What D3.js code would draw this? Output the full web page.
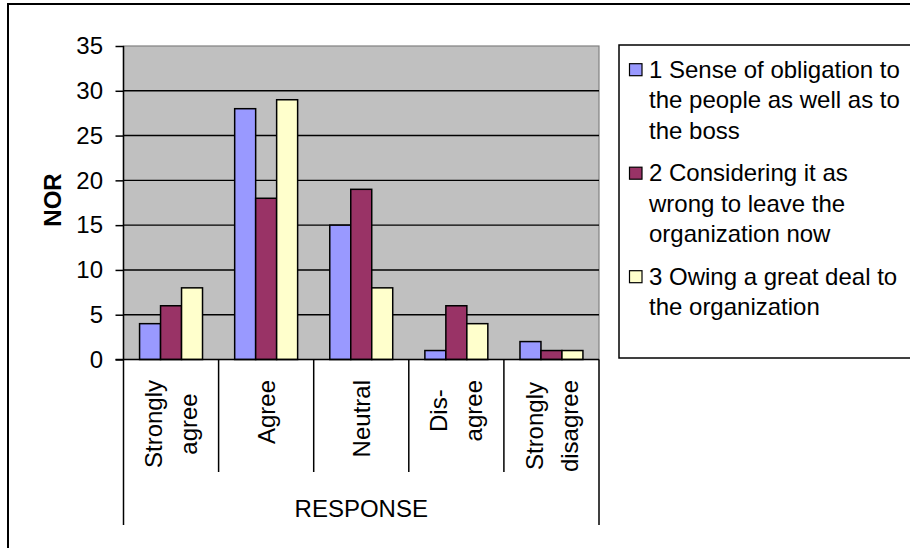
<!DOCTYPE html>
<html>
<head>
<meta charset="utf-8">
<script src="https://cdn.jsdelivr.net/npm/d3@7"></script>
<style>
  html, body { margin: 0; padding: 0; background: #fff; overflow: hidden; }
  svg { display: block; overflow: hidden; font-family: "Liberation Sans", Arial, sans-serif; }
</style>
</head>
<body>
<svg id="chart" width="910" height="548"></svg>
<script>
// ---- data ----
const categories = ["Strongly\nagree", "Agree", "Neutral", "Dis-\nagree", "Strongly\ndisagree"];
const seriesNames = [
  "1 Sense of obligation to\nthe people as well as to\nthe boss",
  "2 Considering it as\nwrong to leave the\norganization now",
  "3 Owing a great deal to\nthe organization"
];
const series1 = [4, 28, 15, 1, 2];
const series2 = [6, 18, 19, 6, 1];
const series3 = [8, 29, 8, 4, 1];
const yTicks = [0, 5, 10, 15, 20, 25, 30, 35];
const yTitle = "NOR";
const xTitle = "RESPONSE";
const colors = ["#9999ff", "#993366", "#ffffcc"];

const seriesValues = [series1, series2, series3];
const FS = 24;

const svg = d3.select("#chart");

// outer chart border (clipped at right/bottom like the reference)
svg.append("path").attr("d", "M8,600V4H1000")
  .attr("fill", "none").attr("stroke", "#000").attr("stroke-width", 2);

const plot = { left: 123.5, right: 599, top: 46, bottom: 359.5 };

const y = d3.scaleLinear().domain([0, 35]).range([plot.bottom, plot.top]);
const x0 = d3.scaleBand().domain(categories).range([plot.left, plot.right]).padding(0);
const x1 = d3.scaleBand().domain(d3.range(seriesValues.length))
  .range([0, x0.bandwidth()]).paddingInner(0).paddingOuter(0.766);

// plot background
svg.append("rect").attr("x", plot.left).attr("y", plot.top)
  .attr("width", plot.right - plot.left).attr("height", plot.bottom - plot.top)
  .attr("fill", "#c0c0c0").attr("stroke", "#808080").attr("stroke-width", 1.2);

// gridlines
svg.append("g").selectAll("line").data(yTicks.filter(d => d > 0 && d < 35)).join("line")
  .attr("x1", plot.left).attr("x2", plot.right)
  .attr("y1", d => y(d)).attr("y2", d => y(d))
  .attr("stroke", "#000").attr("stroke-width", 1.4);

// bars
const groups = svg.append("g").selectAll("g").data(categories).join("g")
  .attr("transform", d => `translate(${x0(d)},0)`);
groups.selectAll("rect").data((d, i) => seriesValues.map((s, k) => ({ k, v: s[i] }))).join("rect")
  .attr("x", d => x1(d.k)).attr("width", x1.bandwidth())
  .attr("y", d => y(d.v)).attr("height", d => y(0) - y(d.v))
  .attr("fill", d => colors[d.k]).attr("stroke", "#000").attr("stroke-width", 1.5);

// y axis
const yAxis = svg.append("g").attr("transform", `translate(${plot.left},0)`)
  .call(d3.axisLeft(y).tickValues(yTicks).tickSize(8).tickPadding(12.5).tickFormat(d3.format("d")));
yAxis.select(".domain").attr("stroke", "#000").attr("stroke-width", 1.5).attr("d", `M0,${plot.top}V${plot.bottom}`);
yAxis.selectAll(".tick line").attr("stroke", "#000").attr("stroke-width", 1.5);
yAxis.selectAll(".tick text").attr("font-size", FS).attr("fill", "#000")
  .attr("font-family", "Liberation Sans, Arial, sans-serif");

// x axis line
svg.append("line").attr("x1", plot.left - 8).attr("x2", plot.right)
  .attr("y1", plot.bottom).attr("y2", plot.bottom).attr("stroke", "#000").attr("stroke-width", 1.5);

// category separators
const bounds = categories.map(c => x0(c)).concat([x0(categories[categories.length - 1]) + x0.bandwidth()]);
svg.append("g").selectAll("line").data(bounds).join("line")
  .attr("x1", d => d).attr("x2", d => d)
  .attr("y1", plot.bottom)
  .attr("y2", (d, i) => (i === 0 || i === bounds.length - 1) ? 525 : 472)
  .attr("stroke", "#000").attr("stroke-width", 1.5);

// category labels (rotated, multi-line, block top-aligned, lines centred)
const lineGap = 35;
categories.forEach(c => {
  const lines = c.split("\n");
  const cx = x0(c) + x0.bandwidth() / 2;
  const g = svg.append("g");
  const texts = lines.map((ln, j) => {
    const off = (j - (lines.length - 1) / 2) * lineGap;
    return g.append("text").text(ln).attr("font-size", FS).attr("fill", "#000")
      .attr("text-anchor", "middle").attr("data-off", off);
  });
  const maxLen = d3.max(texts, t => t.node().getComputedTextLength());
  texts.forEach(t => {
    const off = +t.attr("data-off");
    const bx = cx + off + 0.36 * FS;
    const by = 380 + maxLen / 2;
    t.attr("transform", `translate(${bx},${by}) rotate(-90)`);
  });
});

// x title
svg.append("text").text(xTitle).attr("x", (plot.left + plot.right) / 2).attr("y", 517)
  .attr("text-anchor", "middle").attr("font-size", FS).attr("fill", "#000");

// y title
svg.append("text").text(yTitle).attr("transform", "translate(61,200) rotate(-90)")
  .attr("text-anchor", "middle").attr("font-size", FS).attr("font-weight", "bold").attr("fill", "#000");

// legend (open on the right, clipped like the reference)
svg.append("rect").attr("x", 619).attr("y", 45).attr("width", 400).attr("height", 313)
  .attr("fill", "#fff").attr("stroke", "#000").attr("stroke-width", 1.5);
const legendLineH = 30.5, legendItemGap = 42.5;
let base = 77.7;
seriesNames.forEach((name, k) => {
  const lines = name.split("\n");
  svg.append("rect").attr("x", 629.5).attr("y", base - 14).attr("width", 12.5).attr("height", 12)
    .attr("fill", colors[k]).attr("stroke", "#000").attr("stroke-width", 1.2);
  lines.forEach((ln, j) => {
    svg.append("text").text(ln).attr("x", 649).attr("y", base + j * legendLineH)
      .attr("font-size", FS).attr("fill", "#000");
  });
  base += (lines.length - 1) * legendLineH + legendItemGap;
});
</script>
</body>
</html>
